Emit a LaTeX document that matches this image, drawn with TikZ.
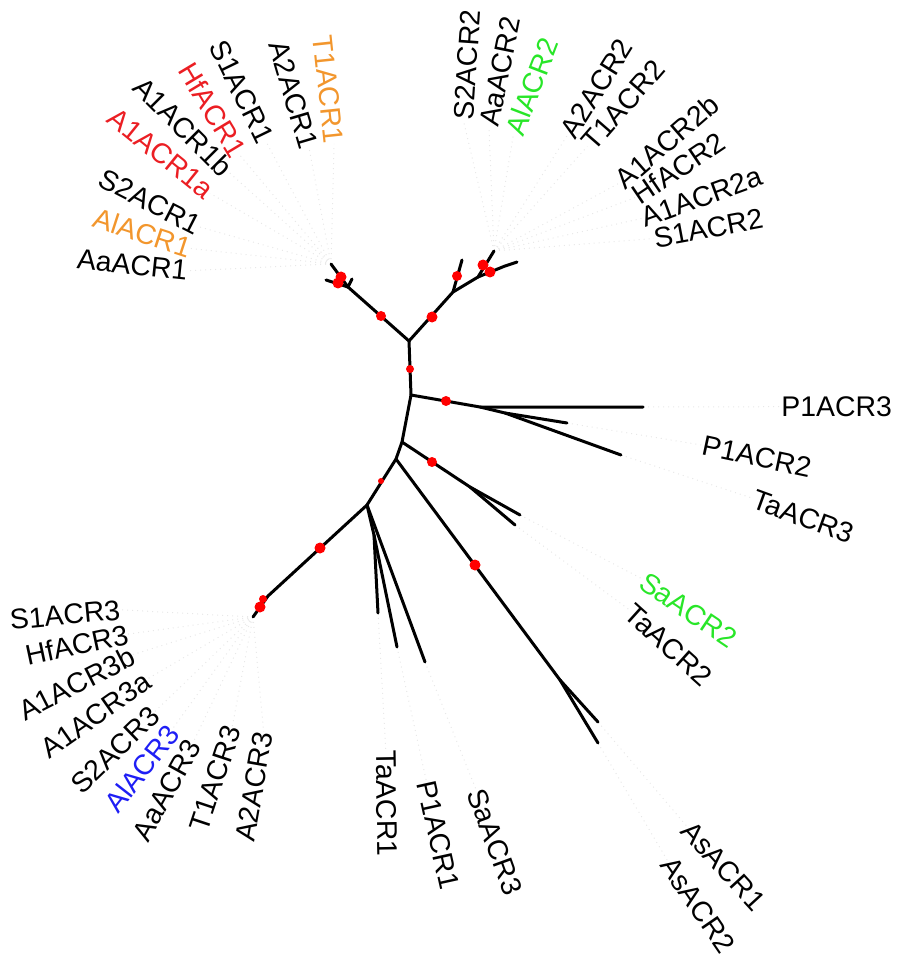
\documentclass[tikz,border=0pt]{standalone}
\usepackage{fontspec}
\setmainfont{Liberation Sans}

\definecolor{lblorange}{RGB}{242,150,45}
\definecolor{lblred}{RGB}{235,30,35}
\definecolor{lblgreen}{RGB}{40,230,40}
\definecolor{lblblue}{RGB}{30,30,245}

\tikzset{
  leaf/.style={inner sep=0pt, font=\fontsize{14.2}{17}\selectfont},
  branch/.style={line width=1.5pt, line cap=round, line join=round},
  support/.style={circle, fill=red, draw=none, inner sep=0pt, minimum size=#1},
  leader/.style={gray!18, dotted, line width=0.5pt},
}

\begin{document}
\begin{tikzpicture}[x=0.5pt,y=-0.5pt]
  \useasboundingbox (0,0) rectangle (899,962);

  % inner nodes of the tree
  \coordinate (r1) at (409,341);
  \coordinate (r2) at (411,395);
  \coordinate (r3) at (402,442);
  \coordinate (r4) at (396,459);
  \coordinate (r5) at (367,505);
  \coordinate (pa) at (480,407);
  \coordinate (pb) at (505,413);
  \coordinate (sc) at (470,487);
  \coordinate (ad) at (560,680);
  \coordinate (te) at (374,535);
  \coordinate (bg) at (268,596);
  \coordinate (uj) at (348,287);
  \coordinate (vk) at (453,292);
  \coordinate (vl) at (478,277);
  \coordinate (vn) at (505,266);

  % tips
  \coordinate (tP1ACR3) at (643,407);
  \coordinate (tP1ACR2) at (567,423);
  \coordinate (tTaACR3) at (621,455);
  \coordinate (tSaACR2) at (520,515);
  \coordinate (tTaACR2) at (515,525);
  \coordinate (tAsACR1) at (598,722);
  \coordinate (tAsACR2) at (598,743);
  \coordinate (tSaACR3) at (425,662);
  \coordinate (tP1ACR1) at (397,647);
  \coordinate (tTaACR1) at (378,613);
  \coordinate (tBL) at (253,617);
  \coordinate (tUL1) at (331,264);
  \coordinate (tUL2) at (326,280);
  \coordinate (tUL3) at (352,279);
  \coordinate (tUR1) at (462,260);
  \coordinate (tUR2) at (494,251);
  \coordinate (tUR3) at (517,262);

  % labels, group 1
  \node[leaf, rotate=-84,  text=lblorange] (T1ACR1)  at (328.3,89.3)  {T1ACR1};
  \node[leaf, rotate=-73.5]                (A2ACR1)  at (293.3,95)    {A2ACR1};
  \node[leaf, rotate=-64]                  (S1ACR1)  at (241.7,91.7)  {S1ACR1};
  \node[leaf, rotate=-59,  text=lblred]    (HfACR1)  at (212.7,110)   {HfACR1};
  \node[leaf, rotate=-45]                  (A1ACR1b) at (183.3,126.7) {A1ACR1b};
  \node[leaf, rotate=-39,  text=lblred]    (A1ACR1a) at (160.7,153.3) {A1ACR1a};
  \node[leaf, rotate=-27]                  (S2ACR1)  at (150,201.7)   {S2ACR1};
  \node[leaf, rotate=-18,  text=lblorange] (AlACR1)  at (142.3,232.7) {AlACR1};
  \node[leaf, rotate=-6]                   (AaACR1)  at (132.3,265)   {AaACR1};

  % labels, group 2
  \node[leaf, rotate=86]                   (S2ACR2)  at (467.3,65)    {S2ACR2};
  \node[leaf, rotate=78.5]                 (AaACR2)  at (500,71.7)    {AaACR2};
  \node[leaf, rotate=69,   text=lblgreen]  (AlACR2)  at (531.7,86.7)  {AlACR2};
  \node[leaf, rotate=58]                   (A2ACR2)  at (596.7,88.3)  {A2ACR2};
  \node[leaf, rotate=49]                   (T1ACR2)  at (623.3,105)   {T1ACR2};
  \node[leaf, rotate=41]                   (A1ACR2b) at (666.7,141.7) {A1ACR2b};
  \node[leaf, rotate=34]                   (HfACR2)  at (678.3,168.3) {HfACR2};
  \node[leaf, rotate=20]                   (A1ACR2a) at (701.7,196.7) {A1ACR2a};
  \node[leaf, rotate=10.6]                 (S1ACR2)  at (708.3,228.3) {S1ACR2};

  % labels, right and bottom
  \node[leaf]                              (P1ACR3)  at (836.7,406.7) {P1ACR3};
  \node[leaf, rotate=-12]                  (P1ACR2)  at (756.7,456.7) {P1ACR2};
  \node[leaf, rotate=-20]                  (TaACR3)  at (803.3,516.7) {TaACR3};
  \node[leaf, rotate=-34,  text=lblgreen]  (SaACR2)  at (688.3,610)   {SaACR2};
  \node[leaf, rotate=-42]                  (TaACR2)  at (668.3,645)   {TaACR2};
  \node[leaf, rotate=-47.5]                (AsACR1)  at (723.3,866)   {AsACR1};
  \node[leaf, rotate=-55.6]                (AsACR2)  at (698,905)     {AsACR2};
  \node[leaf, rotate=-70]                  (SaACR3)  at (495,841.7)   {SaACR3};
  \node[leaf, rotate=-77.5]                (P1ACR1)  at (438.3,835)   {P1ACR1};
  \node[leaf, rotate=-89]                  (TaACR1)  at (386.7,803.3) {TaACR1};

  % labels, group 3
  \node[leaf, rotate=80]                   (A2ACR3)  at (254,786.7)   {A2ACR3};
  \node[leaf, rotate=71.6]                 (T1ACR3)  at (215,778.3)   {T1ACR3};
  \node[leaf, rotate=61]                   (AaACR3)  at (166.7,790)   {AaACR3};
  \node[leaf, rotate=52,   text=lblblue]   (AlACR3)  at (141.7,768.3) {AlACR3};
  \node[leaf, rotate=44]                   (S2ACR3)  at (115,750)     {S2ACR3};
  \node[leaf, rotate=35]                   (A1ACR3a) at (96,715)      {A1ACR3a};
  \node[leaf, rotate=27]                   (A1ACR3b) at (76.7,683.3)  {A1ACR3b};
  \node[leaf, rotate=12]                   (HfACR3)  at (76.7,645)    {HfACR3};
  \node[leaf, rotate=5.4]                  (S1ACR3)  at (65,615)      {S1ACR3};

  % dotted leaders
  \foreach \n in {T1ACR1,A2ACR1,S1ACR1,HfACR1,A1ACR1b,A1ACR1a,S2ACR1,AlACR1,AaACR1}
    \draw[leader] (tUL1) -- (\n.east);
  \foreach \n in {S2ACR2,AaACR2,AlACR2,A2ACR2,T1ACR2,A1ACR2b,HfACR2,A1ACR2a,S1ACR2}
    \draw[leader] (tUR2) -- (\n.west);
  \foreach \n in {A2ACR3,T1ACR3,AaACR3,AlACR3,S2ACR3,A1ACR3a,A1ACR3b,HfACR3,S1ACR3}
    \draw[leader] (tBL) -- (\n.east);
  \foreach \n in {P1ACR3,P1ACR2,TaACR3,SaACR2,TaACR2,AsACR1,AsACR2,SaACR3,P1ACR1,TaACR1}
    \draw[leader] (t\n) -- (\n.west);

  % branches
  \draw[branch] (r1) -- (r2) -- (r3) -- (r4) -- (r5);
  \draw[branch] (r2) -- (pa) -- (tP1ACR3);
  \draw[branch] (pa) -- (pb) -- (tP1ACR2);
  \draw[branch] (pb) -- (tTaACR3);
  \draw[branch] (r3) -- (sc) -- (tSaACR2);
  \draw[branch] (sc) -- (tTaACR2);
  \draw[branch] (r4) -- (ad) -- (tAsACR1);
  \draw[branch] (ad) -- (tAsACR2);
  \draw[branch] (r5) -- (tSaACR3);
  \draw[branch] (r5) -- (te) -- (tTaACR1);
  \draw[branch] (te) -- (tP1ACR1);
  \draw[branch] (r5) -- (bg) -- (tBL);
  \draw[branch] (r1) -- (uj) -- (tUL1);
  \draw[branch] (uj) -- (tUL2);
  \draw[branch] (uj) -- (tUL3);
  \draw[branch] (r1) -- (vk) -- (tUR1);
  \draw[branch] (vk) -- (vl) -- (tUR2);
  \draw[branch] (vl) -- (vn) -- (tUR3);

  % support dots
  \node[support=4pt]   (d1)  at (410,369) {};
  \node[support=5pt]   (d2)  at (446,401) {};
  \node[support=5pt]   (d3)  at (432,462) {};
  \node[support=3pt]   (d4)  at (381,481) {};
  \node[support=5.5pt] (d5)  at (320,548) {};
  \node[support=5.5pt] (d6)  at (475,565) {};
  \node[support=4pt]   (d7)  at (263,599) {};
  \node[support=5.5pt] (d8)  at (260,607) {};
  \node[support=5pt]   (d9)  at (381,316) {};
  \node[support=5.5pt] (d10) at (432,317) {};
  \node[support=5pt]   (d11) at (457,276) {};
  \node[support=5.5pt] (d12) at (483,265) {};
  \node[support=5.5pt] (d13) at (490,272) {};
  \node[support=5.5pt] (d14) at (341,277) {};
  \node[support=5.5pt] (d15) at (338,283) {};
\end{tikzpicture}
\end{document}
